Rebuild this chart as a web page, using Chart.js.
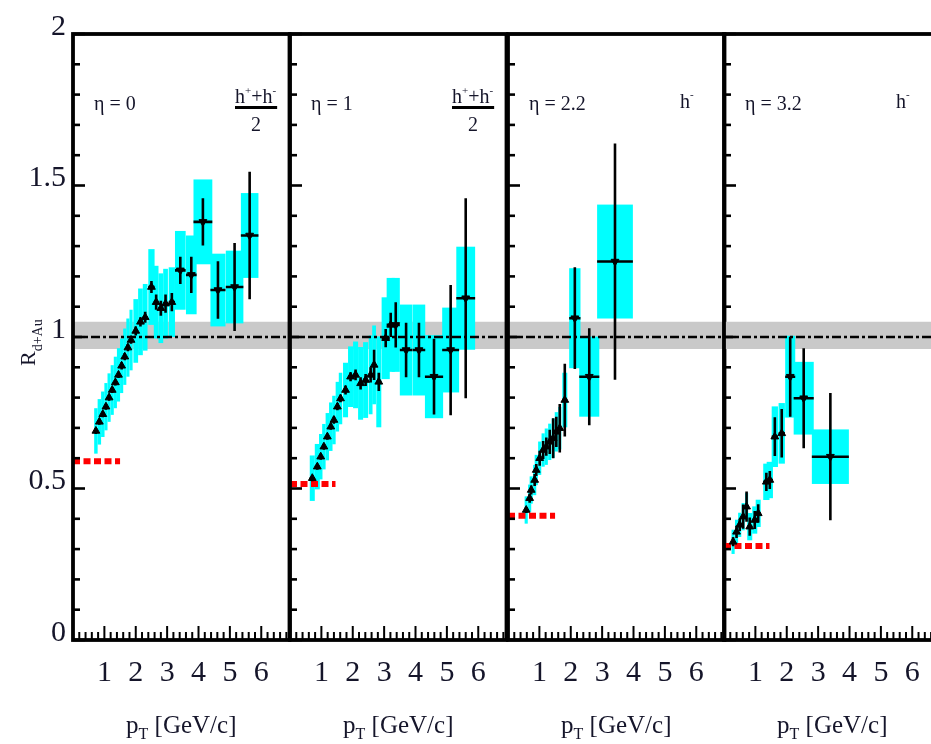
<!DOCTYPE html>
<html><head><meta charset="utf-8">
<script src="https://cdn.jsdelivr.net/npm/chart.js@4.4.1/dist/chart.umd.min.js"></script>
<style>
html,body{margin:0;padding:0;background:#fff;}
#wrap{position:relative;width:931px;height:744px;overflow:hidden;background:#fff;}
#wrap canvas{position:absolute;top:0;}
</style></head><body><div id="wrap"></div>
<script>
// ---------------- data ----------------
// eta = 0, (h+ + h-)/2
const eta0_pt   = [0.73,0.84,0.95,1.05,1.15,1.25,1.35,1.45,1.55,1.65,1.75,1.85,2.0,2.15,2.3,2.5,2.65,2.8,2.95,3.15,3.42,3.77,4.14,4.62,5.15,5.63];
const eta0_R    = [0.69,0.72,0.745,0.77,0.80,0.825,0.85,0.875,0.905,0.935,0.965,0.99,1.02,1.05,1.065,1.165,1.115,1.095,1.11,1.115,1.22,1.205,1.38,1.155,1.165,1.335];
const eta0_stat = [0.01,0.01,0.01,0.01,0.01,0.01,0.01,0.01,0.012,0.012,0.012,0.012,0.015,0.015,0.018,0.02,0.025,0.025,0.03,0.03,0.045,0.06,0.078,0.095,0.145,0.21];
const eta0_sys  = [0.075,0.075,0.075,0.078,0.08,0.082,0.085,0.088,0.09,0.093,0.096,0.1,0.105,0.11,0.11,0.125,0.12,0.115,0.115,0.115,0.13,0.13,0.14,0.12,0.12,0.14];
const eta0_dx   = [0.055,0.055,0.055,0.05,0.05,0.05,0.05,0.05,0.05,0.05,0.05,0.05,0.075,0.075,0.075,0.1,0.075,0.075,0.075,0.1,0.17,0.17,0.3,0.24,0.28,0.28];

// eta = 1, (h+ + h-)/2
const eta1_pt   = [0.71,0.87,0.98,1.08,1.19,1.30,1.40,1.51,1.61,1.77,1.93,2.09,2.25,2.41,2.57,2.68,2.83,3.05,3.21,3.37,3.70,4.11,4.59,5.12,5.60];
const eta1_R    = [0.534,0.572,0.605,0.638,0.671,0.704,0.726,0.77,0.797,0.825,0.869,0.875,0.847,0.858,0.875,0.908,0.852,0.996,1.04,1.04,0.957,0.957,0.869,0.957,1.128];
const eta1_stat = [0.01,0.01,0.01,0.01,0.01,0.01,0.012,0.012,0.012,0.015,0.015,0.018,0.02,0.02,0.025,0.05,0.03,0.03,0.04,0.075,0.09,0.09,0.125,0.215,0.33];
const eta1_sys  = [0.075,0.075,0.075,0.075,0.078,0.08,0.08,0.082,0.085,0.09,0.1,0.11,0.12,0.125,0.13,0.13,0.15,0.135,0.155,0.155,0.15,0.15,0.137,0.14,0.17];
const eta1_dx   = [0.08,0.08,0.055,0.055,0.055,0.055,0.055,0.055,0.055,0.08,0.08,0.08,0.08,0.08,0.06,0.06,0.08,0.13,0.13,0.13,0.2,0.2,0.29,0.27,0.3];

// eta = 2.2, h-
const eta22_pt   = [0.58,0.69,0.74,0.85,0.90,1.01,1.12,1.22,1.33,1.44,1.54,1.65,1.81,2.13,2.59,3.41];
const eta22_R    = [0.429,0.468,0.495,0.528,0.561,0.60,0.627,0.638,0.654,0.666,0.687,0.699,0.792,1.062,0.869,1.249];
const eta22_stat = [0.01,0.015,0.015,0.02,0.02,0.025,0.03,0.03,0.04,0.066,0.05,0.08,0.12,0.168,0.16,0.39];
const eta22_sys  = [0.045,0.045,0.045,0.05,0.05,0.055,0.055,0.06,0.06,0.065,0.065,0.07,0.09,0.165,0.132,0.188];
const eta22_dx   = [0.05,0.05,0.05,0.05,0.05,0.05,0.05,0.05,0.05,0.05,0.05,0.05,0.08,0.18,0.32,0.57];

// eta = 3.2, h-
const eta32_pt   = [0.29,0.40,0.50,0.61,0.72,0.82,0.98,1.09,1.35,1.46,1.62,1.84,2.11,2.54,3.39];
const eta32_R    = [0.324,0.357,0.38,0.407,0.44,0.374,0.396,0.418,0.522,0.528,0.671,0.682,0.869,0.798,0.605];
const eta32_stat = [0.015,0.02,0.02,0.04,0.05,0.03,0.03,0.03,0.03,0.03,0.064,0.08,0.132,0.165,0.21];
const eta32_sys  = [0.04,0.04,0.04,0.045,0.045,0.045,0.045,0.045,0.06,0.06,0.1,0.1,0.135,0.12,0.09];
const eta32_dx   = [0.05,0.05,0.05,0.05,0.05,0.08,0.08,0.08,0.1,0.1,0.1,0.1,0.16,0.32,0.59];

const panelEta     = ['0', '1', '2.2', '3.2'];
const panelSpecies = ['avg', 'avg', 'neg', 'neg'];   // (h+ + h-)/2  or  h-
const scaleLevel   = [0.59, 0.515, 0.41, 0.31];     // red dashed levels
const scaleEnd     = [1.5, 1.45, 1.5, 1.45];
const normBand     = [0.96, 1.05];
const normValue    = 1;
const xTickValues  = [1, 2, 3, 4, 5, 6];
const xTickLabels  = ['1', '2', '3', '4', '5', '6'];
const yTickValues  = [0, 0.5, 1, 1.5, 2];
const yTickLabels  = ['0', '0.5', '1', '1.5', '2'];

// ---------------- layout / style ----------------
const FONT = "'Liberation Serif', 'DejaVu Serif', serif";
const TXT = '#15152a';
const CYAN = '#00ffff';
const X_MIN = 0, X_MAX = 6.9, Y_MIN = 0, Y_MAX = 2;
const PANEL_LEFT = [73, 289.5, 507.5, 724];
const PW = 216.5, TOP = 34, BOTTOM = 640, H = 744;

const panels = [
  {pt: eta0_pt,  R: eta0_R,  stat: eta0_stat,  sys: eta0_sys,  dx: eta0_dx,  flip: 3.3},
  {pt: eta1_pt,  R: eta1_R,  stat: eta1_stat,  sys: eta1_sys,  dx: eta1_dx,  flip: 3.3},
  {pt: eta22_pt, R: eta22_R, stat: eta22_stat, sys: eta22_sys, dx: eta22_dx, flip: 2.0},
  {pt: eta32_pt, R: eta32_R, stat: eta32_stat, sys: eta32_sys, dx: eta32_dx, flip: 2.0},
];

function drawSys(chart, d) {
  const {ctx, chartArea: ca} = chart;
  const xs = chart.scales.x, ys = chart.scales.y;
  ctx.save();
  ctx.beginPath(); ctx.rect(ca.left, ca.top, ca.right - ca.left, ca.bottom - ca.top); ctx.clip();
  ctx.fillStyle = CYAN;
  d.pt.forEach((p, i) => {
    const l = xs.getPixelForValue(p - d.dx[i]), r = xs.getPixelForValue(p + d.dx[i]);
    const t = ys.getPixelForValue(d.R[i] + d.sys[i]), b = ys.getPixelForValue(d.R[i] - d.sys[i]);
    ctx.fillRect(l, t, r - l, b - t);
  });
  ctx.restore();
}

function drawErrors(chart, d) {
  const {ctx, chartArea: ca} = chart;
  const xs = chart.scales.x, ys = chart.scales.y;
  ctx.save();
  ctx.beginPath(); ctx.rect(ca.left, ca.top, ca.right - ca.left, ca.bottom - ca.top); ctx.clip();
  ctx.strokeStyle = '#000'; ctx.lineWidth = 2.6; ctx.lineCap = 'butt';
  d.pt.forEach((p, i) => {
    const px = xs.getPixelForValue(p), py = ys.getPixelForValue(d.R[i]);
    ctx.beginPath();
    ctx.moveTo(px, ys.getPixelForValue(d.R[i] + d.stat[i]));
    ctx.lineTo(px, ys.getPixelForValue(d.R[i] - d.stat[i]));
    ctx.moveTo(xs.getPixelForValue(p - d.dx[i]), py);
    ctx.lineTo(xs.getPixelForValue(p + d.dx[i]), py);
    ctx.stroke();
  });
  ctx.restore();
}

function drawFrame(chart) {
  const {ctx, chartArea: ca} = chart;
  const xs = chart.scales.x, ys = chart.scales.y;
  ctx.save();
  ctx.strokeStyle = '#000';
  ctx.lineWidth = 2.6;
  for (let n = 0; n <= 20; n++) {
    const v = n / 10, py = ys.getPixelForValue(v);
    const len = (n % 5 === 0) ? 12 : 7;
    ctx.beginPath(); ctx.moveTo(ca.left, py); ctx.lineTo(ca.left + len, py); ctx.stroke();
  }
  ctx.lineWidth = 2;
  for (let n = 0; n <= 34; n++) {
    const v = n / 5, px = xs.getPixelForValue(v);
    const len = (n % 5 === 0) ? 14 : 8;
    ctx.beginPath(); ctx.moveTo(px, ca.bottom); ctx.lineTo(px, ca.bottom - len); ctx.stroke();
  }
  ctx.lineWidth = 3.8;
  ctx.strokeRect(ca.left, ca.top, ca.right - ca.left, ca.bottom - ca.top);
  ctx.restore();
}

function drawTexts(chart, k) {
  const {ctx, chartArea: ca} = chart;
  ctx.save();
  ctx.fillStyle = TXT; ctx.textBaseline = 'alphabetic'; ctx.textAlign = 'left';
  ctx.font = `20px ${FONT}`;
  ctx.fillText('\u03b7 = ' + panelEta[k], ca.left + 21, 110);
  if (panelSpecies[k] === 'avg') {
    const x0 = ca.left + 162;
    let x = x0;
    ctx.font = `20px ${FONT}`; ctx.fillText('h', x, 103); x += ctx.measureText('h').width;
    ctx.font = `11px ${FONT}`; ctx.fillText('+', x, 94); x += ctx.measureText('+').width;
    ctx.font = `20px ${FONT}`; ctx.fillText('+h', x, 103); x += ctx.measureText('+h').width;
    ctx.font = `11px ${FONT}`; ctx.fillText('-', x, 94); x += ctx.measureText('-').width + 1;
    ctx.strokeStyle = '#000'; ctx.lineWidth = 3;
    ctx.beginPath(); ctx.moveTo(x0, 107.5); ctx.lineTo(x, 107.5); ctx.stroke();
    ctx.font = `20px ${FONT}`; ctx.textAlign = 'center';
    ctx.fillText('2', (x0 + x) / 2, 131);
    ctx.textAlign = 'left';
  } else {
    let x = ca.left + 172;
    ctx.font = `20px ${FONT}`; ctx.fillText('h', x, 108); x += ctx.measureText('h').width;
    ctx.font = `11px ${FONT}`; ctx.fillText('-', x, 98);
  }
  const cx = (ca.left + ca.right) / 2;
  ctx.font = `25px ${FONT}`; const wP = ctx.measureText('p').width;
  ctx.font = `16px ${FONT}`; const wT = ctx.measureText('T').width;
  ctx.font = `25px ${FONT}`; const wR = ctx.measureText(' [GeV/c]').width;
  let x = cx - (wP + wT + wR) / 2;
  ctx.fillText('p', x, 733); x += wP;
  ctx.font = `16px ${FONT}`; ctx.fillText('T', x, 739); x += wT;
  ctx.font = `25px ${FONT}`; ctx.fillText(' [GeV/c]', x, 733);
  if (k === 0) {
    ctx.translate(35, 366);
    ctx.rotate(-Math.PI / 2);
    ctx.font = `22px ${FONT}`; ctx.fillText('R', 0, 0);
    const wr = ctx.measureText('R').width;
    ctx.font = `14px ${FONT}`; ctx.fillText('d+Au', wr, 7);
  }
  ctx.restore();
}

const wrap = document.getElementById('wrap');

function buildPanel(k) {
  const d = panels[k];
  const L = PANEL_LEFT[k];
  const canvasLeft = k === 0 ? 0 : L - 20;
  const areaLeft = L - canvasLeft;
  const cw = Math.ceil(areaLeft + PW + 20);
  const padR = cw - (areaLeft + PW);
  const cv = document.createElement('canvas');
  cv.width = cw; cv.height = H;
  cv.style.left = canvasLeft + 'px'; cv.style.width = cw + 'px'; cv.style.height = H + 'px';
  wrap.appendChild(cv);

  new Chart(cv, {
    type: 'scatter',
    data: {
      datasets: [
        { label: 'R_dAu', data: d.pt.map((x, i) => ({x, y: d.R[i]})),
          pointStyle: 'triangle', pointRadius: 4.5, pointHoverRadius: 4.5,
          backgroundColor: '#000', borderColor: '#000', borderWidth: 1,
          rotation: c => (d.pt[c.dataIndex] > d.flip ? 180 : 0), order: 0 },
        { label: 'scale', data: [{x: 0, y: scaleLevel[k]}, {x: scaleEnd[k], y: scaleLevel[k]}],
          showLine: true, borderColor: '#ff0000', borderWidth: 6, borderDash: [7, 3.5],
          pointRadius: 0, order: 1 },
        { label: 'norm', data: [{x: X_MIN, y: normValue}, {x: X_MAX, y: normValue}],
          showLine: true, borderColor: '#000', borderWidth: 2.6, borderDash: [9, 3, 3, 3],
          pointRadius: 0, order: 2 },
        { label: 'bandHi', data: [{x: X_MIN, y: normBand[1]}, {x: X_MAX, y: normBand[1]}],
          showLine: true, borderColor: 'rgba(0,0,0,0)', borderWidth: 1, pointRadius: 0, order: 4 },
        { label: 'bandLo', data: [{x: X_MIN, y: normBand[0]}, {x: X_MAX, y: normBand[0]}],
          showLine: true, borderColor: 'rgba(0,0,0,0)', borderWidth: 1, pointRadius: 0,
          fill: '-1', backgroundColor: '#c9c9c9', order: 3 },
      ]
    },
    options: {
      responsive: false, animation: false, devicePixelRatio: 1,
      layout: { padding: { left: k === 0 ? 0 : 20, right: padR, top: TOP, bottom: 0 } },
      plugins: { legend: { display: false }, tooltip: { enabled: false } },
      events: [],
      scales: {
        x: { type: 'linear', min: X_MIN, max: X_MAX,
          afterBuildTicks: s => { s.ticks = xTickValues.map(v => ({value: v})); },
          afterFit: s => { s.height = H - BOTTOM; },
          ticks: { callback: (v, i) => xTickLabels[i], font: {family: FONT, size: 30}, color: TXT,
                   padding: 15, maxRotation: 0, autoSkip: false },
          grid: { display: false, drawTicks: false }, border: { display: false } },
        y: { type: 'linear', min: Y_MIN, max: Y_MAX, display: k === 0,
          afterBuildTicks: s => { s.ticks = yTickValues.map(v => ({value: v})); },
          afterFit: s => { s.width = (k === 0) ? 73 : 0; },
          ticks: { callback: (v, i) => yTickLabels[i], font: {family: FONT, size: 30}, color: TXT,
                   padding: 7, labelOffset: -7, autoSkip: false },
          grid: { display: false, drawTicks: false }, border: { display: false } }
      }
    },
    plugins: [{
      id: 'panelDecor' + k,
      beforeDatasetDraw(chart, args) {
        if (args.index === 2) drawSys(chart, d);
        if (args.index === 0) drawErrors(chart, d);
      },
      afterDraw(chart) { drawFrame(chart); drawTexts(chart, k); }
    }]
  });
}

[0, 1, 2, 3].forEach(buildPanel);
</script></body></html>
